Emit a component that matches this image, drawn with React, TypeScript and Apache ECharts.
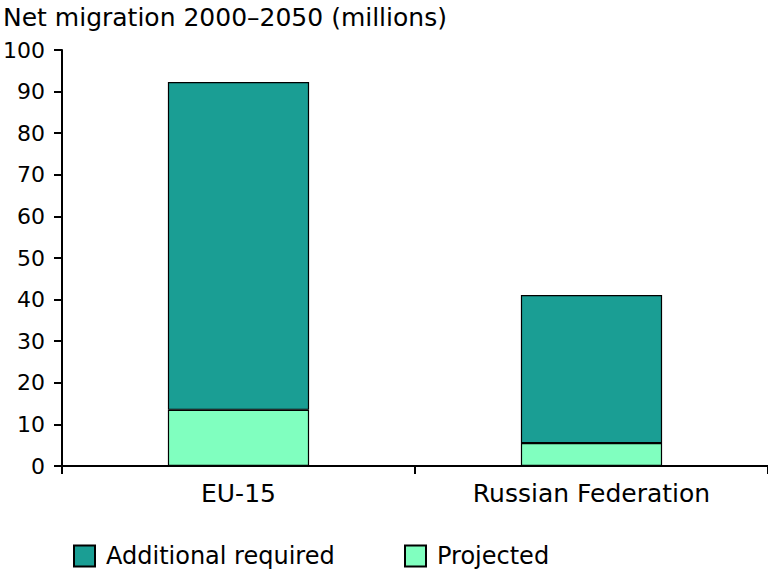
import React, { useEffect, useRef } from "react";
import * as echarts from "echarts";

const categories = ["EU-15", "Russian Federation"];
const projected = [13.5, 5.5];
const additionalRequired = [78.8, 35.6];
const yTicks = { min: 0, max: 100, interval: 10 };
const titleText = "Net migration 2000\u20132050 (millions)";

const FONT = "DejaVu Sans";

export default function App() {
  const ref = useRef<HTMLDivElement>(null);
  useEffect(() => {
    document.body.style.margin = "0";
    const chart = echarts.init(ref.current!, null, { renderer: "svg" });
    const legendText = { fontFamily: FONT, fontSize: 24, lineHeight: 21, color: "#000", padding: [0, 0, 0, 6] };
    chart.setOption({
      animation: false,
      textStyle: { fontFamily: FONT },
      title: {
        text: titleText,
        left: -2,
        top: 0,
        textStyle: { fontFamily: FONT, fontSize: 25, fontWeight: "normal", color: "#000" },
      },
      grid: { left: 61, right: 0, top: 50, bottom: 104 },
      legend: [
        {
          data: ["Additional required"],
          left: 68,
          top: 539,
          itemWidth: 21,
          itemHeight: 21,
          icon: "rect",
          textStyle: legendText,
        },
        {
          data: ["Projected"],
          left: 399,
          top: 539,
          itemWidth: 21,
          itemHeight: 21,
          icon: "rect",
          textStyle: legendText,
        },
      ],
      xAxis: {
        type: "category",
        data: categories,
        axisLine: { lineStyle: { color: "#000", width: 2 } },
        axisTick: { show: true, length: 8, lineStyle: { color: "#000", width: 2 } },
        axisLabel: { fontFamily: FONT, fontSize: 25, color: "#000", margin: 15 },
      },
      yAxis: {
        type: "value",
        min: yTicks.min,
        max: yTicks.max,
        interval: yTicks.interval,
        splitLine: { show: false },
        axisLine: { show: true, lineStyle: { color: "#000", width: 2 } },
        axisTick: { show: true, length: 8, lineStyle: { color: "#000", width: 2 } },
        axisLabel: { fontFamily: FONT, fontSize: 22, color: "#000", margin: 17 },
      },
      series: [
        {
          name: "Projected",
          type: "bar",
          stack: "total",
          data: projected,
          barWidth: "40%",
          itemStyle: { color: "#80FFBF", borderColor: "#000", borderWidth: 1.2 },
        },
        {
          name: "Additional required",
          type: "bar",
          stack: "total",
          data: additionalRequired,
          barWidth: "40%",
          itemStyle: { color: "#1A9E94", borderColor: "#000", borderWidth: 1.2 },
        },
      ],
    });
    return () => chart.dispose();
  }, []);
  return <div ref={ref} style={{ width: 768, height: 570 }} />;
}
